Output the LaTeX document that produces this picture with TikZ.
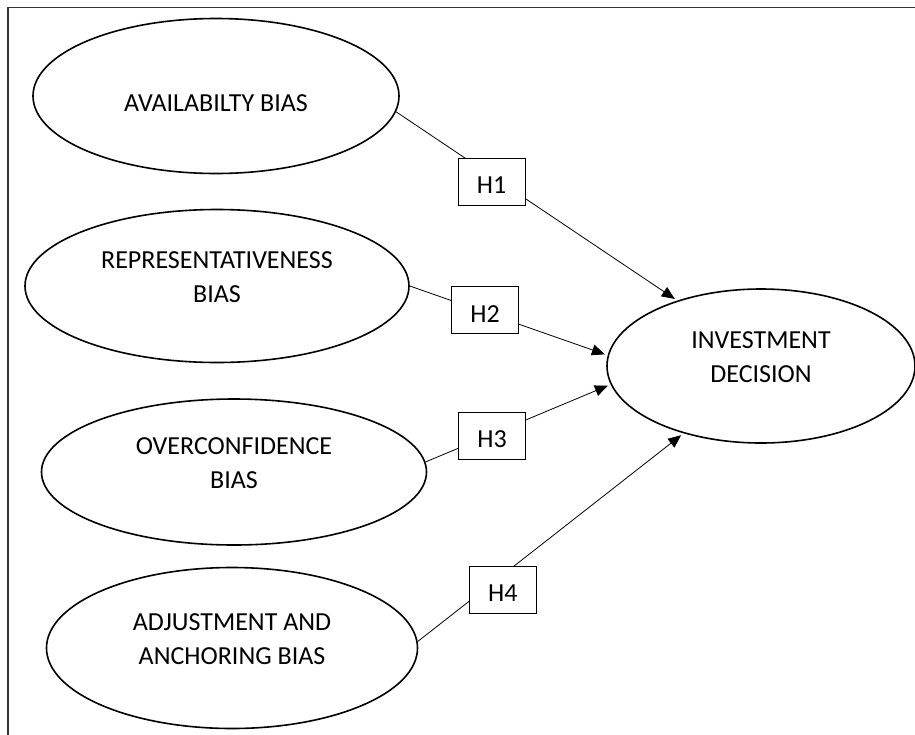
\documentclass[tikz,border=0pt]{standalone}
\usepackage{fontspec}
\setmainfont{Carlito}
\usetikzlibrary{shapes.geometric}
\usetikzlibrary{arrows.meta}

\tikzset{
  bias/.style={draw, ellipse, line width=1.6pt, inner sep=0pt, align=center,
    font=\fontsize{26}{34}\selectfont},
  hyp/.style={draw, rectangle, fill=white, line width=1.2pt, inner sep=0pt,
    minimum width=67pt, minimum height=47pt, text height=24pt,
    font=\fontsize{26}{34}\selectfont},
  link/.style={line width=0.8pt, shorten >=3pt,
    -{Triangle[length=13pt,width=11pt]}}
}

\begin{document}
\begin{tikzpicture}[x=1pt,y=-1pt]
  \clip (0,0) rectangle (915,734);
  \fill[white] (0,0) rectangle (915,734);
  \draw[line width=1.5pt, black!80] (8,760) -- (8,7.5) -- (940,7.5);

  % biases
  \node[bias, minimum width=366pt, minimum height=155pt, text height=32pt] (avail) at (216,96) {AVAILABILTY BIAS};
  \node[bias, minimum width=384pt, minimum height=153pt, text depth=18pt] (repr) at (217,286) {REPRESENTATIVENESS\\BIAS};
  \node[bias, minimum width=385pt, minimum height=146pt, text depth=18pt] (over) at (234,472) {OVERCONFIDENCE\\BIAS};
  \node[bias, minimum width=371pt, minimum height=161pt, text depth=18pt] (adj) at (232,648) {ADJUSTMENT AND\\ANCHORING BIAS};
  \node[bias, minimum width=308pt, minimum height=154pt, text depth=18pt] (inv) at (761,366) {INVESTMENT\\DECISION};

  % hypotheses
  \draw[link] (avail.-5.6) -- node[hyp, pos=0.34, yshift=-6pt] (h1) {H1} (inv.142.8);
  \draw[link] (repr.east) -- node[hyp, pos=0.38, yshift=2pt] (h2) {H2} (inv.176.7);
  \draw[link] (over.3) -- node[hyp, pos=0.36, yshift=-2pt] (h3) {H3} (inv.187.4);
  \draw[link] (adj.2.8) -- node[hyp, pos=0.32, yshift=-15pt] (h4) {H4} (inv.221.9);
\end{tikzpicture}
\end{document}
